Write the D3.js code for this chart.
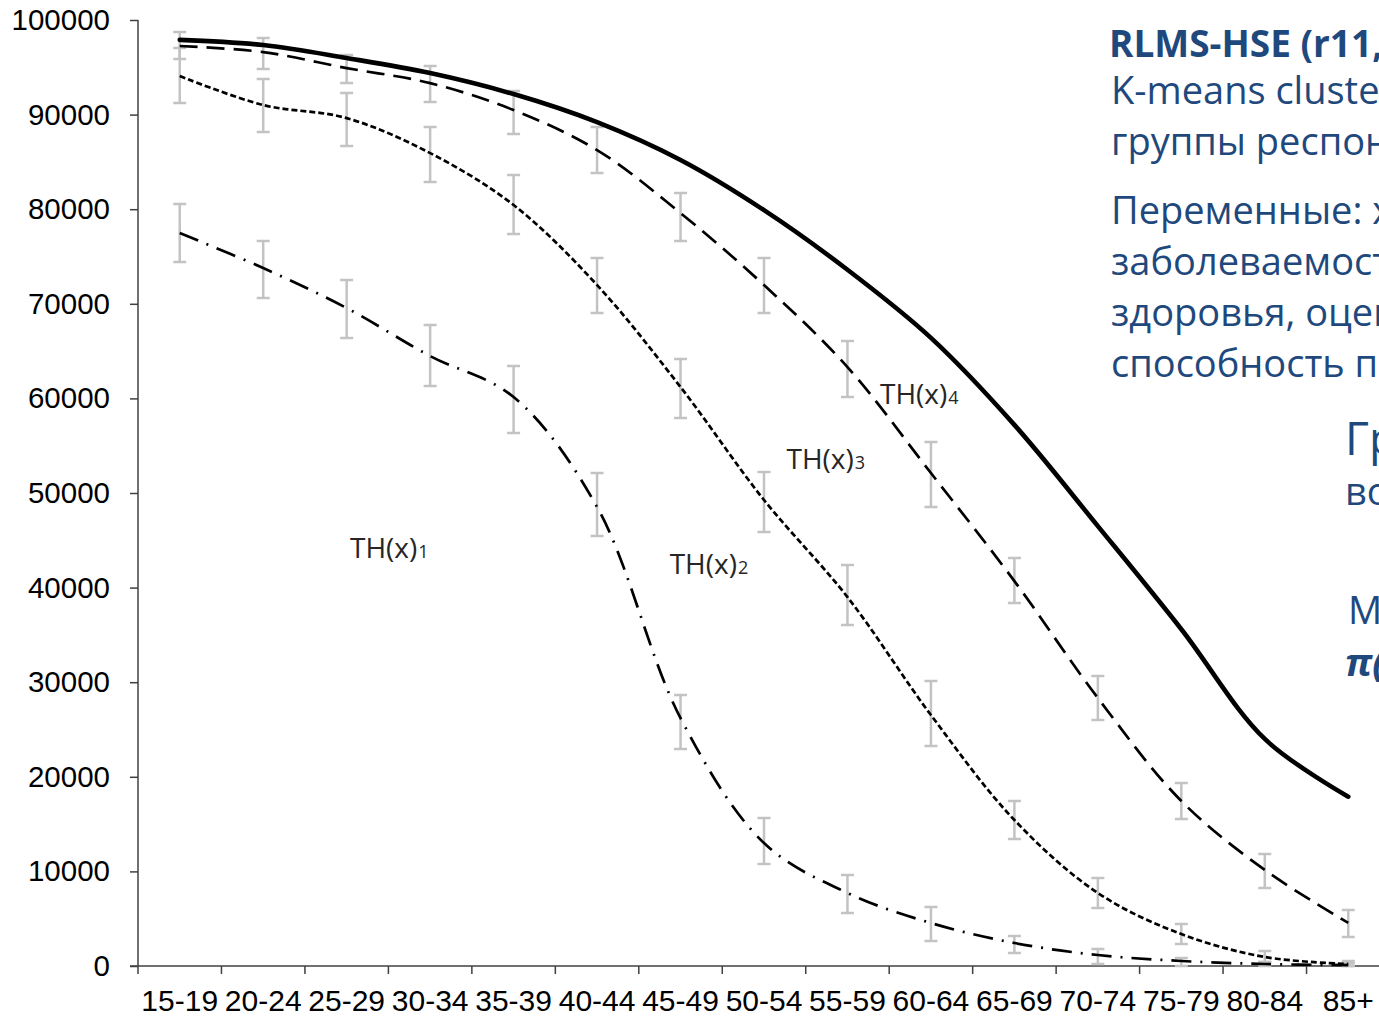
<!DOCTYPE html>
<html>
<head>
<meta charset="utf-8">
<script src="https://cdn.jsdelivr.net/npm/d3@7"></script>
<style>
  html, body { margin: 0; padding: 0; background: #fff; }
  svg { display: block; }
</style>
</head>
<body>
<svg id="chart" width="1379" height="1016"></svg>
<script>
// Age groups along the horizontal axis
const ageGroups = ["15-19", "20-24", "25-29", "30-34", "35-39", "40-44", "45-49",
  "50-54", "55-59", "60-64", "65-69", "70-74", "75-79", "80-84", "85+"];

// Vertical axis ticks
const yTicks = [0, 10000, 20000, 30000, 40000, 50000, 60000, 70000, 80000, 90000, 100000];

// Overall survivors curve (no error bars)
const overall = [97900, 97350, 95980, 94390, 92170, 89200, 85200, 79900, 73600, 66400,
  57200, 46500, 35600, 24000, 17900];

// Cluster 1 (dash-dot) with confidence bounds
const cluster1 = [77480, 73780, 69550, 64480, 60140, 48520, 26210, 13000, 7720, 4545,
  2430, 1160, 530, 210, 100];
const cluster1Low = [74410, 70610, 66380, 61310, 56340, 45450, 22940, 10780, 5600, 2640,
  1370, 210, 0, 0, 0];
const cluster1High = [80540, 76630, 72510, 67750, 63420, 52110, 28640, 15640, 9620, 6240,
  3170, 1800, 850, 420, 300];

// Cluster 2 (short dashes)
const cluster2 = [94070, 91010, 89630, 85930, 80440, 71980, 61200, 49260, 39000, 26530,
  15430, 7720, 3380, 950, 210];
const cluster2Low = [91220, 88150, 86670, 82870, 77370, 69020, 57920, 45870, 36040, 23250,
  13420, 6130, 2330, 420, 0];
const cluster2High = [97030, 93760, 92280, 88680, 83610, 74840, 64160, 52220, 42390, 30120,
  17440, 9300, 4440, 1590, 530];

// Cluster 3 (long dashes)
const cluster3 = [97250, 96610, 94920, 93330, 90480, 86250, 79590, 71980, 63310, 52110,
  40690, 28330, 17440, 10150, 4550];
const cluster3Low = [95870, 94810, 93330, 91320, 87940, 83820, 76630, 69020, 60140, 48520,
  38370, 26000, 15540, 8240, 3070];
const cluster3High = [98720, 98090, 96290, 95130, 92490, 88680, 81710, 74840, 66060, 55390,
  43130, 30650, 19340, 11840, 5920];

// Curve labels: position given as (fractional age-group index, value)
const curveLabels = [
  { name: "TH(x)", sub: "1", at: 2.04, value: 43100 },
  { name: "TH(x)", sub: "2", at: 5.87, value: 41400 },
  { name: "TH(x)", sub: "3", at: 7.27, value: 52500 },
  { name: "TH(x)", sub: "4", at: 8.39, value: 59400 }
];

// Side notes
const noteTitle = "RLMS-HSE (r11, r12, r13)";
const noteLines = [
  "K-means cluster analysis:",
  "группы респондентов",
  "",
  "Переменные: хроническая",
  "заболеваемость, самооценка",
  "здоровья, оценка",
  "способность продолжать"
];

const svg = d3.select("#chart");
const margin = { left: 138, top: 20, bottom: 966, right: 1390 };

const x = d3.scaleBand()
  .domain(ageGroups)
  .range([margin.left, margin.right])
  .paddingInner(0).paddingOuter(0);

const y = d3.scaleLinear()
  .domain([0, 100000])
  .range([margin.bottom, margin.top]);

// position scale for fractional index placements
const xi = d3.scaleLinear()
  .domain([0, ageGroups.length - 1])
  .range([x(ageGroups[0]) + x.bandwidth() / 2, x(ageGroups[ageGroups.length - 1]) + x.bandwidth() / 2]);

const cx = d => x(d) + x.bandwidth() / 2;

// Axes
const axisColor = "#404040";
const yAxis = svg.append("g")
  .attr("transform", `translate(${margin.left},0)`)
  .call(d3.axisLeft(y).tickValues(yTicks).tickFormat(d3.format("d")).tickSize(8).tickPadding(20));
yAxis.select(".domain").attr("stroke", axisColor).attr("stroke-width", 1.5)
  .attr("d", `M0,${margin.top}V${margin.bottom}`);
yAxis.selectAll(".tick line").attr("stroke", axisColor).attr("stroke-width", 1.5);
yAxis.selectAll(".tick text")
  .attr("font-family", "'Liberation Sans', Arial, sans-serif")
  .attr("font-size", 29.5).attr("fill", "#000");

const xAxis = svg.append("g")
  .attr("transform", `translate(0,${margin.bottom})`)
  .call(d3.axisBottom(x).tickSize(0).tickPadding(24));
xAxis.select(".domain").attr("stroke", axisColor).attr("stroke-width", 1.5)
  .attr("d", `M130,0H${margin.right + 10}`);
xAxis.selectAll(".tick text")
  .attr("font-family", "'Liberation Sans', Arial, sans-serif")
  .attr("font-size", 30).attr("fill", "#000");
// tick marks at band boundaries
const boundaries = ageGroups.map(d => x(d)).concat([x(ageGroups[ageGroups.length - 1]) + x.bandwidth()]);
xAxis.selectAll("line.bound")
  .data(boundaries)
  .enter().append("line")
  .attr("class", "bound")
  .attr("x1", d => d).attr("x2", d => d)
  .attr("y1", 0).attr("y2", 8)
  .attr("stroke", axisColor).attr("stroke-width", 1.5);

// Error bars
const clusters = [
  { mid: cluster1, lo: cluster1Low, hi: cluster1High, dash: "20,9,2,9" },
  { mid: cluster2, lo: cluster2Low, hi: cluster2High, dash: "6,3" },
  { mid: cluster3, lo: cluster3Low, hi: cluster3High, dash: "18,9" }
];

const barColor = "#c3c3c3";
const capHalf = 6.5;
const barsG = svg.append("g");
clusters.forEach(c => {
  const g = barsG.append("g");
  const rows = ageGroups.map((a, i) => ({ a, lo: c.lo[i], hi: c.hi[i] }));
  g.selectAll("path")
    .data(rows)
    .enter().append("path")
    .attr("d", r => {
      const px = cx(r.a), y1 = y(r.hi), y2 = y(r.lo);
      return `M${px - capHalf},${y1}H${px + capHalf}M${px},${y1}V${y2}M${px - capHalf},${y2}H${px + capHalf}`;
    })
    .attr("fill", "none")
    .attr("stroke", barColor)
    .attr("stroke-width", 2.5);
});

// Lines
const line = d3.line()
  .x((d, i) => cx(ageGroups[i]))
  .y(d => y(d))
  .curve(d3.curveCatmullRom.alpha(0.5));

clusters.forEach(c => {
  svg.append("path")
    .datum(c.mid)
    .attr("d", line)
    .attr("fill", "none")
    .attr("stroke", "#000")
    .attr("stroke-width", 2.7)
    .attr("stroke-dasharray", c.dash);
});

svg.append("path")
  .datum(overall)
  .attr("d", line)
  .attr("fill", "none")
  .attr("stroke", "#000")
  .attr("stroke-width", 4.6)
  .attr("stroke-linecap", "round");

// Curve labels
const labelFont = "'Open Sans', 'Noto Sans', sans-serif";
const lbl = svg.append("g").selectAll("text")
  .data(curveLabels)
  .enter().append("text")
  .attr("x", d => xi(d.at))
  .attr("y", d => y(d.value))
  .attr("font-family", labelFont)
  .attr("font-size", 28)
  .attr("fill", "#262626");
lbl.append("tspan").text(d => d.name);
lbl.append("tspan").attr("font-size", 18).attr("dx", 1).text(d => d.sub);

// Side notes
const noteColor = "#1F497D";
const notes = svg.append("g").attr("font-family", labelFont).attr("fill", noteColor);
notes.append("text")
  .attr("x", 1109).attr("y", 57)
  .attr("font-size", 37).attr("font-weight", "bold")
  .text(noteTitle);
const noteBaselines = [104, 155, null, 224, 275, 326, 377];
noteLines.forEach((t, i) => {
  if (!t) return;
  notes.append("text")
    .attr("x", 1111).attr("y", noteBaselines[i])
    .attr("font-size", 38)
    .text(t);
});
notes.append("text").attr("x", 1345).attr("y", 455).attr("font-size", 46).text("Группы");
notes.append("text").attr("x", 1345).attr("y", 505).attr("font-size", 38).text("возраста");
notes.append("text").attr("x", 1348).attr("y", 624).attr("font-size", 38).text("Модель");
notes.append("text").attr("x", 1345).attr("y", 676).attr("font-size", 38)
  .attr("font-weight", "bold").attr("font-style", "italic").text("π(x)");
</script>
</body>
</html>
